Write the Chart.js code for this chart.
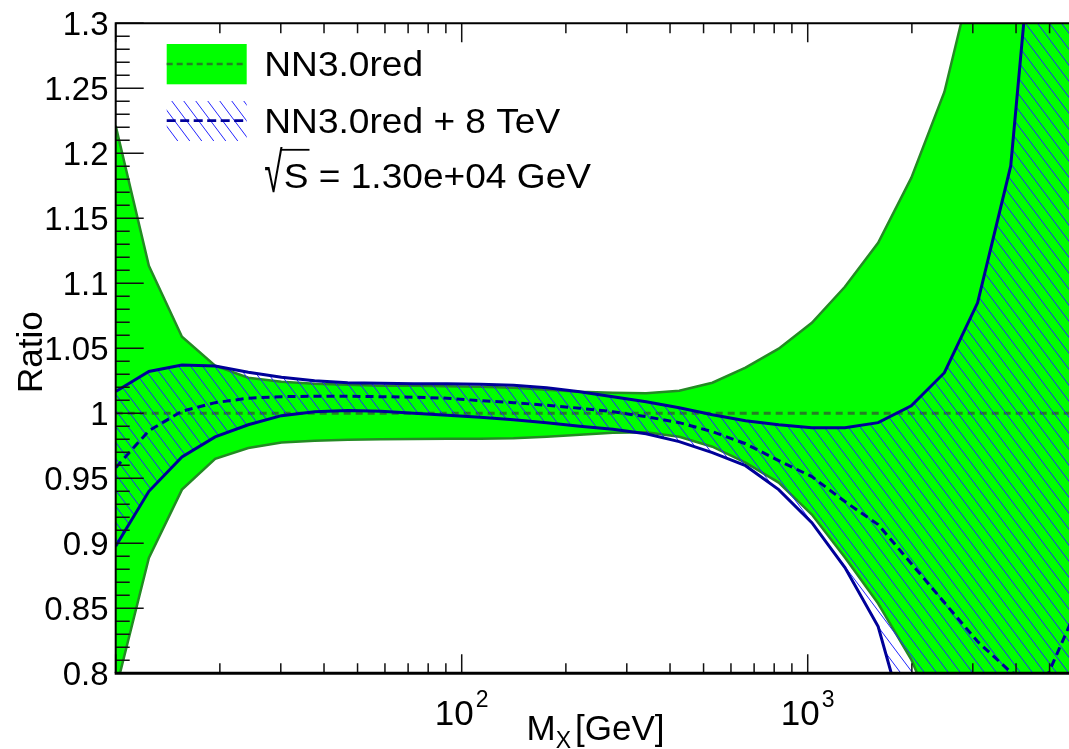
<!DOCTYPE html>
<html>
<head>
<meta charset="utf-8">
<script src="https://cdn.jsdelivr.net/npm/chart.js@4.4.1/dist/chart.umd.min.js"></script>
<style>
  html, body { margin: 0; padding: 0; background: #fff; }
  #wrap { width: 1069px; height: 749px; }
</style>
</head>
<body>
<div id="wrap"><canvas id="ratioChart" width="1069" height="749"></canvas></div>
<script>
// Invariant mass grid [GeV]
const massPoints = [10, 12.47, 15.54, 19.38, 24.16, 30.13, 37.56, 46.83, 58.39, 72.81,
    90.78, 113.2, 141.1, 176.0, 219.4, 273.5, 341.1, 425.3, 530.2, 661.1,
    824.3, 1028, 1281, 1598, 1992, 2483, 3097, 3861, 4814, 6000];

// NN3.0red band, ratio to its own central value
const nnRedUpper = [1.2211, 1.1134, 1.0589, 1.0366, 1.0274, 1.0243, 1.0228, 1.0220, 1.0212, 1.0212,
    1.0208, 1.0204, 1.0197, 1.0181, 1.0166, 1.0158, 1.0154, 1.0174, 1.0235, 1.0351,
    1.0497, 1.0696, 1.0973, 1.1311, 1.1811, 1.2472, 1.3525, 1.50, 1.70, 1.95];
const nnRedLower = [0.7869, 0.8888, 0.9413, 0.9649, 0.9733, 0.9776, 0.9789, 0.9797, 0.9801, 0.9803,
    0.9805, 0.9805, 0.9809, 0.9820, 0.9835, 0.9851, 0.9855, 0.9820, 0.9743, 0.9620,
    0.9467, 0.9221, 0.8890, 0.8537, 0.8106, 0.75, 0.68, 0.60, 0.52, 0.43];
const nnRedCentral = [1, 1, 1, 1, 1, 1, 1, 1, 1, 1,
    1, 1, 1, 1, 1, 1, 1, 1, 1, 1,
    1, 1, 1, 1, 1, 1, 1, 1, 1, 1];

// NN3.0red + 8 TeV band
const tevUpper = [1.0168, 1.0322, 1.0371, 1.0364, 1.0316, 1.0277, 1.0251, 1.0235, 1.0231, 1.0228,
    1.0228, 1.0224, 1.0216, 1.0197, 1.0166, 1.0128, 1.0089, 1.0043, 0.9989, 0.9943,
    0.9912, 0.9889, 0.9889, 0.9928, 1.0058, 1.0312, 1.0850, 1.1903, 1.47, 1.75];
const tevLower = [0.8977, 0.9400, 0.9664, 0.9818, 0.9912, 0.9982, 1.0012, 1.0022, 1.0016, 1.0001,
    0.9985, 0.9970, 0.9951, 0.9928, 0.9901, 0.9878, 0.9843, 0.9782, 0.9697, 0.9597,
    0.9413, 0.9159, 0.8813, 0.8360, 0.7453, 0.64, 0.52, 0.40, 0.28, 0.15];
const tevCentral = [0.9582, 0.9866, 1.0016, 1.0082, 1.0116, 1.0128, 1.0131, 1.0131, 1.0128, 1.0124,
    1.0116, 1.0097, 1.0082, 1.0062, 1.0039, 1.0012, 0.9974, 0.9928, 0.9859, 0.9766,
    0.9636, 0.9513, 0.9321, 0.9144, 0.8844, 0.8544, 0.8244, 0.801, 0.792, 0.85];

// Axis ticks and labels
const yTickValues = [0.8, 0.85, 0.9, 0.95, 1, 1.05, 1.1, 1.15, 1.2, 1.25, 1.3];
const yTickLabels = ['0.8', '0.85', '0.9', '0.95', '1', '1.05', '1.1', '1.15', '1.2', '1.25', '1.3'];
const xTickValues = [100, 1000];
const xTickExponents = ['2', '3'];

const legendLabels = ['NN3.0red', 'NN3.0red + 8 TeV'];
const energyLabel = ' = 1.30e+04 GeV';

const GREEN = '#00ff00';
const GREEN_EDGE = '#238b23';
const GREEN_DASH = 'rgba(40,115,40,0.9)';
const NAVY = '#000099';
const FONT = '"Liberation Sans", Arial, Helvetica, sans-serif';

// Diagonal "\\\\" hatch used for the 8 TeV band
function makeHatch(color) {
    const w = 12, h = 16;
    const c = document.createElement('canvas');
    c.width = w;
    c.height = h;
    const g = c.getContext('2d');
    g.strokeStyle = color;
    g.lineWidth = 1;
    g.beginPath();
    [-w, 0, w].forEach(dx => {
        g.moveTo(dx - w, -h);
        g.lineTo(dx + 2 * w, 2 * h);
    });
    g.stroke();
    return g.createPattern(c, 'repeat');
}
const hatch = makeHatch('#2323ff');

const toPoints = values => massPoints.map((m, i) => ({ x: m, y: values[i] }));

// Frame, inward ticks, labels and legend in ROOT style
const rootFrame = {
    id: 'rootFrame',
    afterDatasetsDraw(chart) {
        const ctx = chart.ctx;
        const { left, right, top, bottom } = chart.chartArea;
        const xs = chart.scales.x;
        const ys = chart.scales.y;
        ctx.save();

        // y ticks every 0.01, majors every 0.05
        ctx.strokeStyle = '#111';
        ctx.lineWidth = 1.5;
        ctx.beginPath();
        for (let i = 80; i <= 130; i++) {
            const py = ys.getPixelForValue(i / 100);
            const len = i % 5 === 0 ? 28 : 14;
            ctx.moveTo(left, py);
            ctx.lineTo(left + len, py);
        }
        // x ticks, bottom and top
        for (let dec = 10; dec <= 1000; dec *= 10) {
            for (let k = 1; k <= 9; k++) {
                const v = dec * k;
                if (v > xs.max) continue;
                const px = xs.getPixelForValue(v);
                const len = k === 1 ? 19 : 10;
                ctx.moveTo(px, bottom);
                ctx.lineTo(px, bottom - len);
                ctx.moveTo(px, top);
                ctx.lineTo(px, top + len);
            }
        }
        ctx.stroke();

        // frame
        ctx.strokeStyle = '#000';
        ctx.lineWidth = 2;
        ctx.beginPath();
        ctx.moveTo(right + 2, top);
        ctx.lineTo(left, top);
        ctx.lineTo(left, bottom);
        ctx.stroke();
        ctx.lineWidth = 3;
        ctx.beginPath();
        ctx.moveTo(left - 1, bottom);
        ctx.lineTo(right + 2, bottom);
        ctx.stroke();

        // y tick labels
        ctx.fillStyle = '#000';
        ctx.font = '33px ' + FONT;
        ctx.textAlign = 'right';
        ctx.textBaseline = 'alphabetic';
        yTickValues.forEach((v, i) => {
            ctx.fillText(yTickLabels[i], 108.5, ys.getPixelForValue(v) + 12);
        });

        // x tick labels as 10^n
        ctx.textAlign = 'left';
        xTickValues.forEach((v, i) => {
            const px = xs.getPixelForValue(v);
            ctx.font = '35px ' + FONT;
            const bw = ctx.measureText('10').width;
            ctx.font = '23px ' + FONT;
            const ew = ctx.measureText(xTickExponents[i]).width;
            const x0 = px - (bw + 2 + ew) / 2;
            ctx.font = '35px ' + FONT;
            ctx.fillText('10', x0, 725);
            ctx.font = '23px ' + FONT;
            ctx.fillText(xTickExponents[i], x0 + bw + 2, 707);
        });

        // x title: M with subscript X
        let tx = 526.5;
        ctx.font = '35px ' + FONT;
        ctx.fillText('M', tx, 740);
        tx += ctx.measureText('M').width;
        ctx.font = '23px ' + FONT;
        ctx.fillText('X', tx, 748);
        tx += ctx.measureText('X').width + 4;
        ctx.font = '35px ' + FONT;
        ctx.fillText('[GeV]', tx, 740);

        // y title
        ctx.save();
        ctx.translate(41.5, 393);
        ctx.rotate(-Math.PI / 2);
        ctx.fillText('Ratio', 0, 0);
        ctx.restore();

        // legend
        ctx.fillStyle = GREEN;
        ctx.fillRect(166.7, 44, 80, 40.3);
        ctx.strokeStyle = GREEN_DASH;
        ctx.lineWidth = 2.5;
        ctx.setLineDash([6, 4]);
        ctx.beginPath();
        ctx.moveTo(166.7, 64);
        ctx.lineTo(246.7, 64);
        ctx.stroke();

        ctx.fillStyle = hatch;
        ctx.fillRect(166.7, 101, 80, 40);
        ctx.strokeStyle = NAVY;
        ctx.lineWidth = 2.7;
        ctx.setLineDash([9, 4.5]);
        ctx.beginPath();
        ctx.moveTo(166.7, 120.7);
        ctx.lineTo(246.7, 120.7);
        ctx.stroke();
        ctx.setLineDash([]);

        ctx.fillStyle = '#000';
        ctx.font = '35px ' + FONT;
        const drawWide = (text, x, y) => {
            ctx.save();
            ctx.translate(x, y);
            ctx.scale(1.06, 1);
            ctx.fillText(text, 0, 0);
            ctx.restore();
        };
        drawWide(legendLabels[0], 264.3, 75.7);
        drawWide(legendLabels[1], 264.3, 133.3);

        // sqrt(S): stretched radical sign, vinculum over S
        ctx.save();
        ctx.translate(264.3, 188.3);
        ctx.scale(1.06, 1);
        const rw = ctx.measureText('\u221A').width;
        const sw = ctx.measureText('S').width;
        ctx.save();
        ctx.translate(0, 4);
        ctx.scale(0.9, 1.62);
        ctx.fillText('\u221A', 0, 0);
        ctx.restore();
        const sx = rw * 0.9 + 1;
        ctx.fillText('S' + energyLabel, sx, 0);
        ctx.lineWidth = 1.8;
        ctx.strokeStyle = '#000';
        ctx.beginPath();
        ctx.moveTo(sx - 3, -38.5);
        ctx.lineTo(sx + sw + 1, -38.5);
        ctx.stroke();
        ctx.restore();

        ctx.restore();
    }
};

new Chart(document.getElementById('ratioChart'), {
    type: 'line',
    data: {
        datasets: [
            {   // 0: NN3.0red upper edge, filled down to the lower edge
                label: 'NN3.0red upper',
                data: toPoints(nnRedUpper),
                borderColor: GREEN_EDGE,
                borderWidth: 2.5,
                backgroundColor: GREEN,
                fill: 1,
                order: 7
            },
            {   // 1: NN3.0red lower edge
                label: 'NN3.0red lower',
                data: toPoints(nnRedLower),
                borderColor: GREEN_EDGE,
                borderWidth: 2.5,
                fill: false,
                order: 6
            },
            {   // 2: NN3.0red central
                label: 'NN3.0red',
                data: toPoints(nnRedCentral),
                borderColor: GREEN_DASH,
                borderWidth: 3,
                borderDash: [7, 5],
                fill: false,
                order: 5
            },
            {   // 3: 8 TeV upper edge, hatched down to the lower edge
                label: 'NN3.0red + 8 TeV upper',
                data: toPoints(tevUpper),
                borderColor: NAVY,
                borderWidth: 3,
                backgroundColor: hatch,
                fill: 4,
                order: 4
            },
            {   // 4: 8 TeV lower edge
                label: 'NN3.0red + 8 TeV lower',
                data: toPoints(tevLower),
                borderColor: NAVY,
                borderWidth: 3,
                fill: false,
                order: 3
            },
            {   // 5: 8 TeV central
                label: 'NN3.0red + 8 TeV',
                data: toPoints(tevCentral),
                borderColor: NAVY,
                borderWidth: 3,
                borderDash: [8, 5],
                fill: false,
                order: 1
            }
        ]
    },
    options: {
        responsive: false,
        animation: false,
        devicePixelRatio: 1,
        layout: { padding: { left: 115.7, top: 23.3, right: 0, bottom: 75.7 } },
        elements: {
            point: { radius: 0, hoverRadius: 0 },
            line: { tension: 0, borderCapStyle: 'butt' }
        },
        datasets: { line: { clip: 0 } },
        scales: {
            x: { type: 'logarithmic', min: 10, max: 5690, display: false },
            y: { type: 'linear', min: 0.8, max: 1.3, display: false }
        },
        plugins: {
            legend: { display: false },
            tooltip: { enabled: false }
        }
    },
    plugins: [rootFrame]
});
</script>
</body>
</html>
